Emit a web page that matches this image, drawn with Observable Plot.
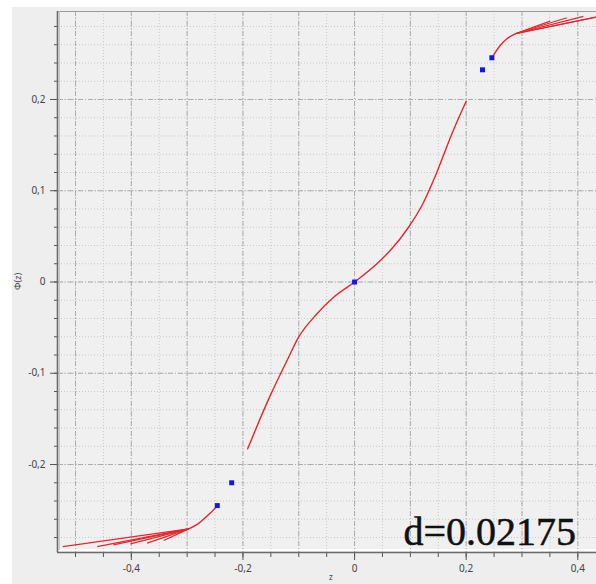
<!DOCTYPE html>
<html>
<head>
<meta charset="utf-8">
<script src="https://cdn.jsdelivr.net/npm/d3@7"></script>
<script src="https://cdn.jsdelivr.net/npm/@observablehq/plot@0.6"></script>
<style>
  html, body { margin: 0; padding: 0; background: #fff; }
  #chart { width: 596px; height: 584px; }
</style>
</head>
<body>
<div id="chart"></div>
<script>
// Central branch of Φ(z)
const zMid   = [-0.1916, -0.153, -0.121, -0.1003, -0.0673, -0.0376, 0, 0.043, 0.0639, 0.0967, 0.1207, 0.1475, 0.1744, 0.200];
const phiMid = [-0.1828, -0.127, -0.086, -0.0605, -0.0348, -0.0167, 0, 0.0217, 0.0345, 0.060, 0.0838, 0.1203, 0.1624, 0.198];
// Lower outer branch (curve up to the fan junction)
const zLow   = [-0.246, -0.2555, -0.2643, -0.2793, -0.2972];
const phiLow = [-0.245, -0.2515, -0.2565, -0.2645, -0.2705];
// Upper outer branch
const zHigh   = [0.246, 0.2609, 0.2729, 0.2877];
const phiHigh = [0.2457, 0.2592, 0.2665, 0.272];
// Fan line end points (start at the branch junction)
const fanLowZ   = [-0.5228, -0.4612, -0.4321, -0.4016, -0.3717, -0.342];
const fanLowPhi = [-0.2899, -0.2899, -0.288, -0.2869, -0.2862, -0.2833];
const fanHighZ   = [0.3504, 0.3803, 0.410, 0.433, 0.47];
const fanHighPhi = [0.2858, 0.2895, 0.291, 0.2902, 0.2948];
// Blue markers
const blueZ   = [-0.246, -0.2202, 0, 0.2292, 0.246];
const bluePhi = [-0.245, -0.220, 0, 0.2325, 0.2457];
// Ticks and grid
const xLabels = [-0.4, -0.2, 0, 0.2, 0.4];
const xMinor  = [-0.5, -0.45, -0.4, -0.35, -0.3, -0.25, -0.2, -0.15, -0.1, -0.05, 0, 0.05, 0.1, 0.15, 0.2, 0.25, 0.3, 0.35, 0.4];
const xMajor  = [-0.5, -0.4, -0.3, -0.2, -0.1, 0, 0.1, 0.2, 0.3, 0.4];
const yLabels = [-0.2, -0.1, 0, 0.1, 0.2];
const yMinor  = [-0.28, -0.26, -0.24, -0.22, -0.2, -0.18, -0.16, -0.14, -0.12, -0.1, -0.08, -0.06, -0.04, -0.02, 0,
                 0.02, 0.04, 0.06, 0.08, 0.1, 0.12, 0.14, 0.16, 0.18, 0.2, 0.22, 0.24, 0.26, 0.28];
const yMajor  = [-0.2, -0.1, 0, 0.1, 0.2];
const annotation = "d=0.02175";

const RED = "#e8262b";
const BLUE = "#1414f0";
const toPts = (zs, ps) => zs.map((z, i) => ({z, p: ps[i]}));
const mid = toPts(zMid, phiMid);
const low = toPts(zLow, phiLow);
const high = toPts(zHigh, phiHigh);
const jl = low[low.length - 1], jh = high[high.length - 1];
const fanLow = fanLowZ.map((z, i) => ({x1: jl.z, y1: jl.p, x2: z, y2: fanLowPhi[i]}));
const fanHigh = fanHighZ.map((z, i) => ({x1: jh.z, y1: jh.p, x2: z, y2: fanHighPhi[i]}));
const blue = toPts(blueZ, bluePhi);
const fmt = d => d === 0 ? "0" : String(d).replace(".", ",");

const W = 596, H = 584, ML = 58, MR = 0, MT = 11, MB = 32;

const chart = Plot.plot({
  width: W, height: H,
  marginLeft: ML, marginRight: MR, marginTop: MT, marginBottom: MB,
  x: {domain: [-0.5305, 0.4335]},
  y: {domain: [-0.2964, 0.2964]},
  style: {background: "transparent", fontFamily: "'Noto Sans', sans-serif", fontSize: "10px", color: "#444"},
  marks: [
    Plot.frame({fill: "#f0f0f0", stroke: null}),
    Plot.ruleX(xMinor, {stroke: "#c8c8c8", strokeDasharray: "1,2"}),
    Plot.ruleY(yMinor, {stroke: "#c8c8c8", strokeDasharray: "1,2"}),
    Plot.ruleX(xMajor, {stroke: "#ababab", strokeDasharray: "5,2,1,2"}),
    Plot.ruleY(yMajor, {stroke: "#ababab", strokeDasharray: "5,2,1,2"}),
    Plot.line(mid, {x: "z", y: "p", stroke: RED, strokeWidth: 1.4, curve: "monotone-x", clip: true}),
    Plot.line(low, {x: "z", y: "p", stroke: RED, strokeWidth: 1.4, curve: "monotone-x", clip: true}),
    Plot.line(high, {x: "z", y: "p", stroke: RED, strokeWidth: 1.4, curve: "monotone-x", clip: true}),
    Plot.link(fanLow, {x1: "x1", y1: "y1", x2: "x2", y2: "y2", stroke: RED, strokeWidth: 1.2, clip: true}),
    Plot.link(fanHigh, {x1: "x1", y1: "y1", x2: "x2", y2: "y2", stroke: RED, strokeWidth: 1.2, clip: true}),
    Plot.dot(blue, {x: "z", y: "p", symbol: "square", r: 2.8, fill: BLUE, stroke: null}),
    Plot.axisX(xMinor, {tickSize: 5, tickFormat: () => "", label: null, stroke: "#555"}),
    Plot.axisX(xLabels, {tickSize: 8, tickPadding: 4, tickFormat: fmt, label: null, stroke: "#555", fill: "#444"}),
    Plot.axisY(yMinor, {tickSize: 4, tickFormat: () => "", label: null, stroke: "#555"}),
    Plot.axisY(yLabels, {tickSize: 8, tickPadding: 5, tickFormat: fmt, label: null, stroke: "#555", fill: "#444"})
  ]
});

const svg = d3.select(chart);
// outer panel background
svg.insert("rect", ":first-child")
  .attr("x", 12).attr("y", 7).attr("width", W - 12).attr("height", H - 7)
  .attr("fill", "#eeeeee");
// borders / axis lines
svg.append("line").attr("x1", ML).attr("x2", W).attr("y1", MT + 0.5).attr("y2", MT + 0.5)
  .attr("stroke", "#9a9a9a").attr("stroke-width", 1.2);
svg.append("line").attr("x1", ML).attr("x2", W).attr("y1", H - MB - 2).attr("y2", H - MB - 2)
  .attr("stroke", "#ffffff").attr("stroke-width", 2);
svg.append("line").attr("x1", ML - 1).attr("x2", W).attr("y1", H - MB + 0.5).attr("y2", H - MB + 0.5)
  .attr("stroke", "#6a6a6a").attr("stroke-width", 1.6);
svg.append("line").attr("x1", ML - 0.5).attr("x2", ML - 0.5).attr("y1", MT).attr("y2", H - MB)
  .attr("stroke", "#6a6a6a").attr("stroke-width", 1.6);
svg.append("line").attr("x1", ML + 1.5).attr("x2", ML + 1.5).attr("y1", MT).attr("y2", H - MB - 2)
  .attr("stroke", "#c8c8c8").attr("stroke-width", 1);
// axis titles
svg.append("text").attr("x", (ML + W) / 2 + 4).attr("y", 580)
  .attr("text-anchor", "middle").attr("font-family", "'Noto Sans', sans-serif")
  .attr("font-size", 8).attr("fill", "#444").text("z");
svg.append("text").attr("transform", `translate(21,${(MT + H - MB) / 2}) rotate(-90)`)
  .attr("text-anchor", "middle").attr("font-family", "'Noto Sans', sans-serif")
  .attr("font-size", 9).attr("fill", "#444").text("Φ(z)");
// annotation
svg.append("text").attr("x", 576).attr("y", 545)
  .attr("text-anchor", "end").attr("font-family", "'Liberation Serif', serif")
  .attr("font-size", 40).attr("fill", "#111").attr("stroke", "#111").attr("stroke-width", 0.5)
  .text(annotation);

document.getElementById("chart").appendChild(chart);
</script>
</body>
</html>
